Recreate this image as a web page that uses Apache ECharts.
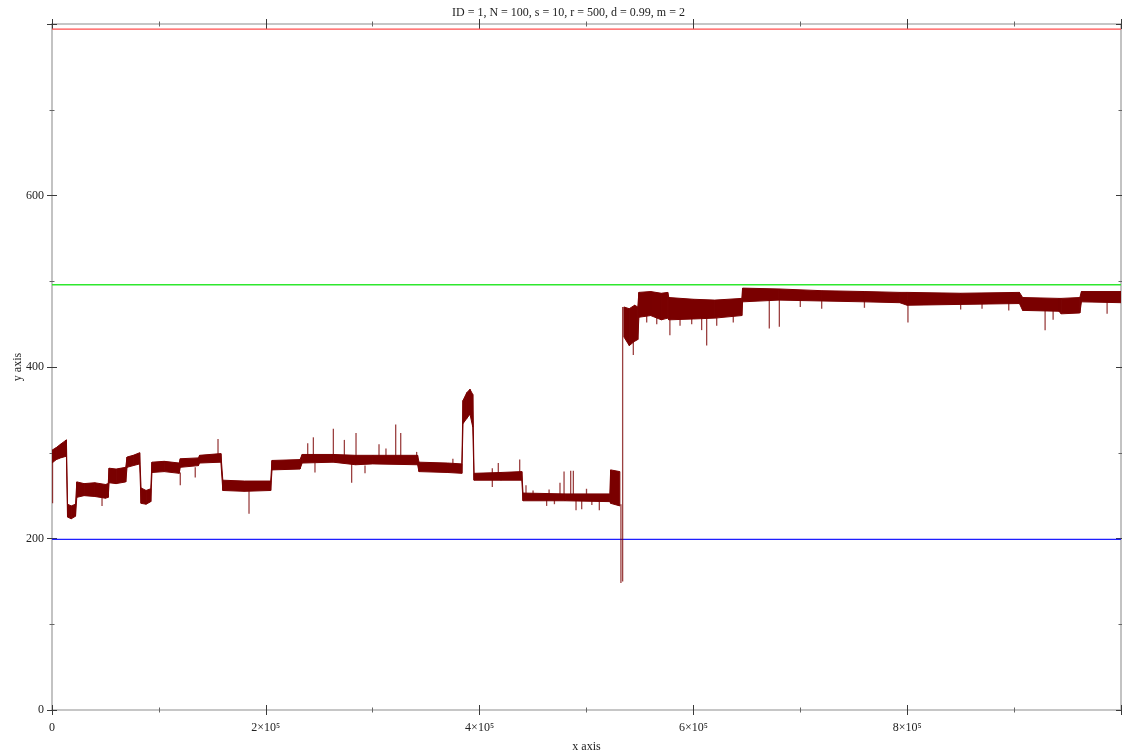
<!DOCTYPE html>
<html>
<head>
<meta charset="utf-8">
<script src="https://cdn.jsdelivr.net/npm/echarts@6/dist/echarts.min.js"></script>
<style>
  html, body { margin: 0; padding: 0; background: #fff; }
  #chart { width: 1122px; height: 753px; }
</style>
</head>
<body>
<div id="chart"></div>
<script>
// Run trace: x in thousands of steps, band = lower/upper edge of the noisy trace
const titleText = 'ID = 1, N = 100, s = 10, r = 500, d = 0.99, m = 2';
const xTickLabels = { 0: '0', 200000: '2×10⁵', 400000: '4×10⁵', 600000: '6×10⁵', 800000: '8×10⁵' };

const bandX  = [0, 4, 8, 13.5, 14.5, 18, 22, 23.2, 30, 40, 50, 52.6, 53.4, 60, 69, 70.2, 76, 82, 83.3, 88, 92.4, 93.5, 105, 119, 120, 137, 138, 158, 159.8, 180, 204.6, 205.8, 232, 234, 263, 284, 300, 342, 343.3, 370, 383.4, 384.5, 388, 391, 393.6, 394.8, 420, 439.5, 440.6, 480, 521.8, 522.6, 531.2, 533, 535, 540, 545, 548, 549, 560, 570, 576, 577, 600, 620, 645.3, 646, 680, 720, 760, 793, 800, 850, 905, 908, 942, 944, 961.5, 963, 1000];
const bandLo = [288, 292, 294, 296, 225, 223, 226, 248, 250, 249, 247, 248, 265, 264, 266, 283, 285, 287, 241, 240, 243, 277, 278, 276, 283, 285, 288, 289, 256, 255, 256, 280, 281, 288, 289, 286, 287, 286, 278, 277, 276, 334, 340, 345, 330, 268, 268, 268, 244, 244, 243, 241, 238, null, 435, 425, 430, 432, 458, 460, 455, 457, 455, 456, 457, 460, 476, 478, 477, 476, 475, 472, 473, 474, 466, 465, 462, 463, 476, 475];
const bandHi = [303, 306, 310, 315, 240, 238, 240, 266, 264, 265, 263, 264, 282, 281, 283, 295, 297, 300, 259, 256, 258, 289, 290, 288, 293, 294, 297, 299, 268, 267, 267, 291, 292, 298, 298, 297, 297, 297, 289, 288, 287, 361, 370, 374, 368, 276, 277, 278, 253, 252, 252, 280, 278, null, 470, 468, 472, 470, 487, 488, 486, 487, 481, 479, 478, 480, 492, 491, 489, 488, 487, 487, 486, 487, 481, 480, 480, 481, 488, 488];

// Isolated excursions: position, start value, end value
const spikeX    = [0.5, 46.8, 120, 134, 155.3, 184.3, 239.2, 244.5, 246, 263.2, 273.5, 280.3, 284.4, 292.8, 305.9, 312.4, 321.5, 326.2, 341.1, 375, 411.9, 411.9, 417.5, 437.5, 443.4, 450, 462.7, 465, 470, 475.2, 479, 485.2, 487.7, 490.2, 495.5, 500, 505, 512, 532.2, 533.8, 539, 543.8, 556.3, 565.7, 578, 587.5, 598.4, 607.7, 612.4, 621.8, 637.3, 671, 680.4, 700, 720, 760, 800.7, 850, 870, 895, 929, 936.5, 987];
const spikeFrom = [300, 250, 277, 283, 295, 258, 292, 292, 288, 296, 295, 287, 296, 285, 296, 296, 296, 296, 288, 287, 270, 275, 276, 276, 250, 250, 246, 250, 245, 251, 251, 251, 251, 246, 246, 250, 246, 246, 240, 150, 440, 440, 462, 462, 460, 458, 458, 460, 460, 458, 460, 480, 480, 478, 478, 478, 478, 476, 476, 476, 466, 466, 478];
const spikeTo   = [241, 238, 262, 271, 316, 229, 311, 318, 277, 328, 315, 265, 323, 276, 310, 305, 333, 323, 301, 293, 260, 282, 288, 292, 262, 256, 238, 257, 240, 265, 278, 279, 279, 233, 234, 258, 239, 233, 148, 470, 429, 414, 452, 450, 437, 448, 450, 443, 425, 448, 452, 445, 447, 470, 468, 469, 452, 467, 468, 466, 443, 455, 462];

// Reference levels
const refLevels = [794, 496, 199];
const refColors = ['#ff4d4d', '#2ee82e', '#1f1fff'];

const traceColor = '#7a0000';
const axisGray = '#b4b4b4';
const tickColor = '#3a3a3a';
const serif = '"Liberation Serif", "DejaVu Serif", serif';

const bandData = bandX.map((x, i) => [x * 1000, bandLo[i], bandHi[i]]);
const spikeData = spikeX.map((x, i) => [x * 1000, spikeFrom[i], spikeTo[i]]);

function bandItem(params, api) {
  const i = params.dataIndex;
  if (i >= bandX.length - 1) return null;
  if (bandLo[i] == null || bandLo[i + 1] == null) return null;
  const x0 = bandX[i] * 1000, x1 = bandX[i + 1] * 1000;
  const pts = [
    api.coord([x0, bandHi[i]]),
    api.coord([x1, bandHi[i + 1]]),
    api.coord([x1, bandLo[i + 1]]),
    api.coord([x0, bandLo[i]])
  ];
  return {
    type: 'polygon',
    shape: { points: pts },
    style: { fill: traceColor, stroke: traceColor, lineWidth: 1 }
  };
}

function spikeItem(params, api) {
  const a = api.coord([api.value(0), api.value(1)]);
  const b = api.coord([api.value(0), api.value(2)]);
  return {
    type: 'line',
    shape: { x1: a[0], y1: a[1], x2: b[0], y2: b[1] },
    style: { stroke: traceColor, lineWidth: 1.3, opacity: 0.75 }
  };
}

function xAxisDef(position, inside, withLabels, withLine) {
  return {
    type: 'value', position: position, min: 0, max: 1000000, interval: 200000,
    name: withLabels ? 'x axis' : '',
    nameLocation: 'middle', nameGap: 31, nameMoveOverlap: false,
    nameTextStyle: { fontFamily: serif, fontSize: 12, color: '#222' },
    axisLine: { show: withLine, onZero: false, lineStyle: { color: axisGray, width: 1.6 } },
    axisTick: { show: true, inside: inside, length: 5, lineStyle: { color: tickColor, width: 1 } },
    minorTick: { show: true, splitNumber: 2, length: 2.5, lineStyle: { color: '#666', width: 1 } },
    axisLabel: {
      show: withLabels, margin: 12, fontFamily: serif, fontSize: 12, color: '#222',
      formatter: v => xTickLabels[v] !== undefined ? xTickLabels[v] : ''
    },
    splitLine: { show: false }
  };
}

function yAxisDef(position, inside, withLabels, withLine) {
  return {
    type: 'value', position: position, min: 0, max: 800, interval: 200,
    name: withLabels ? 'y axis' : '',
    nameLocation: 'middle', nameGap: 28, nameMoveOverlap: false,
    nameTextStyle: { fontFamily: serif, fontSize: 12, color: '#222' },
    axisLine: { show: withLine, onZero: false, lineStyle: { color: axisGray, width: 1.6 } },
    axisTick: { show: true, inside: inside, length: 5, lineStyle: { color: tickColor, width: 1 } },
    minorTick: { show: true, splitNumber: 2, length: 2.5, lineStyle: { color: '#666', width: 1 } },
    axisLabel: {
      show: withLabels, margin: 8, fontFamily: serif, fontSize: 12, color: '#222',
      formatter: v => (v === 800 ? '' : String(v))
    },
    splitLine: { show: false }
  };
}

const chart = echarts.init(document.getElementById('chart'), null, { renderer: 'canvas' });

const series = [
  {
    type: 'custom', name: 'band', renderItem: bandItem, data: bandData,
    xAxisIndex: 0, yAxisIndex: 0, clip: true, silent: true, z: 3,
    encode: { x: 0, y: [1, 2] }
  },
  {
    type: 'custom', name: 'spikes', renderItem: spikeItem, data: spikeData,
    xAxisIndex: 0, yAxisIndex: 0, clip: true, silent: true, z: 4,
    encode: { x: 0, y: [1, 2] }
  }
];
refLevels.forEach((lvl, k) => {
  series.push({
    type: 'line', xAxisIndex: 0, yAxisIndex: 0, silent: true, z: 2,
    data: [[0, lvl], [1000000, lvl]], symbol: 'none',
    lineStyle: { color: refColors[k], width: 1.4 }
  });
});

chart.setOption({
  animation: false,
  backgroundColor: '#ffffff',
  title: {
    text: titleText, left: 452, top: 7, padding: 0,
    textStyle: { fontFamily: serif, fontSize: 12, fontWeight: 'normal', color: '#222' }
  },
  grid: { left: 52, right: 1, top: 24, bottom: 43, containLabel: false, outerBoundsMode: 'none' },
  xAxis: [
    xAxisDef('bottom', false, true, true),
    xAxisDef('bottom', true, false, false),
    xAxisDef('top', false, false, true),
    xAxisDef('top', true, false, false)
  ],
  yAxis: [
    yAxisDef('left', false, true, true),
    yAxisDef('left', true, false, false),
    yAxisDef('right', false, false, true),
    yAxisDef('right', true, false, false)
  ],
  series: series
});
</script>
</body>
</html>
